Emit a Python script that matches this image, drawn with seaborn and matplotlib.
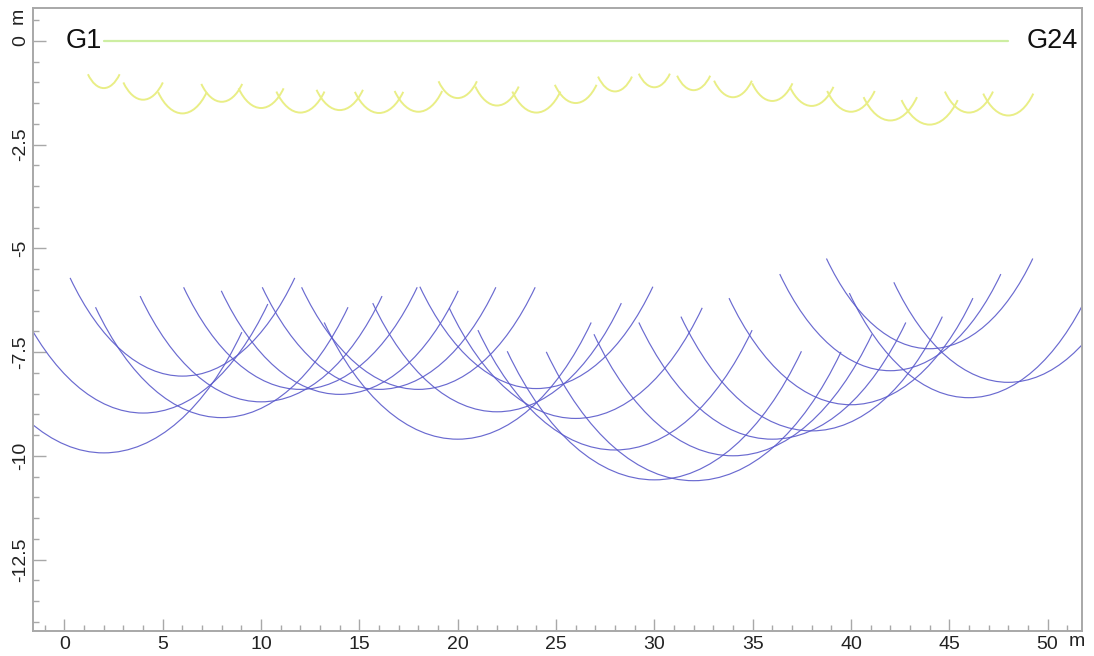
import matplotlib
matplotlib.use("Agg")
import matplotlib.pyplot as plt
from matplotlib.patches import Arc
from matplotlib.ticker import MultipleLocator, FixedLocator, FixedFormatter
import seaborn as sns
import pandas as pd

# ---- data ----
geophone_x = [2, 4, 6, 8, 10, 12, 14, 16, 18, 20, 22, 24,
              26, 28, 30, 32, 34, 36, 38, 40, 42, 44, 46, 48]
geophone_labels = ["G1", "G24"]
# first refractor depth arcs (radius, m)
shallow_r = [1.14, 1.42, 1.75, 1.47, 1.62, 1.73, 1.67, 1.74, 1.71, 1.38, 1.56, 1.73,
             1.50, 1.22, 1.12, 1.19, 1.36, 1.45, 1.57, 1.71, 1.92, 2.02, 1.73, 1.80]
# second refractor depth arcs (radius, m)
deep_r = [9.93, 8.97, 8.08, 9.08, 8.70, 8.40, 8.52, 8.40, 8.40, 9.60, 8.94, 8.38,
          9.10, 9.86, 10.58, 10.60, 10.00, 9.60, 9.40, 8.77, 7.95, 7.42, 8.60, 8.23]
arc_half_angle = 45  # degrees either side of vertical
x_ticks = [0, 5, 10, 15, 20, 25, 30, 35, 40, 45, 50]
y_ticks = [0, -2.5, -5, -7.5, -10, -12.5]
y_tick_labels = ["0", "-2.5", "-5", "-7.5", "-10", "-12.5"]

sns.set_theme(style="white")
plt.rcParams["font.family"] = ["Liberation Sans", "DejaVu Sans"]
plt.rcParams["axes.unicode_minus"] = False

W, H = 1094, 656
fig = plt.figure(figsize=(W / 100, H / 100), dpi=100)
ax = fig.add_axes([33 / W, 1 - 630.5 / H, (1082 - 33) / W, (630.5 - 8) / H])

# geophone spread line
spread = pd.DataFrame({"x": [geophone_x[0], geophone_x[-1]], "y": [0, 0]})
sns.lineplot(data=spread, x="x", y="y", ax=ax, color="#cdeea2", lw=1.6, legend=False)

t1, t2 = 270 - arc_half_angle, 270 + arc_half_angle
for xg, r in zip(geophone_x, shallow_r):
    ax.add_patch(Arc((xg, 0), 2 * r, 2 * r, theta1=t1, theta2=t2,
                     color="#e9ee86", lw=1.4))
for xg, r in zip(geophone_x, deep_r):
    ax.add_patch(Arc((xg, 0), 2 * r, 2 * r, theta1=t1, theta2=t2,
                     color="#5a5acb", lw=0.85, alpha=0.9))

ax.text(geophone_x[0] - 0.1, 0, geophone_labels[0], ha="right", va="center",
        fontsize=19.5, color="#111111")
ax.text(geophone_x[-1] + 0.95, 0, geophone_labels[1], ha="left", va="center",
        fontsize=19.5, color="#111111")

ax.set_xlim(-1.6, 51.75)
ax.set_ylim(-14.21, 0.79)
ax.set_xlabel("")
ax.set_ylabel("")

ax.xaxis.set_major_locator(FixedLocator(x_ticks))
ax.xaxis.set_minor_locator(MultipleLocator(1))
ax.yaxis.set_major_locator(FixedLocator(y_ticks))
ax.yaxis.set_major_formatter(FixedFormatter(y_tick_labels))
ax.yaxis.set_minor_locator(MultipleLocator(0.5))

spine_c = "#a8a8a8"
for s in ax.spines.values():
    s.set_visible(True)
    s.set_color(spine_c)
    s.set_linewidth(1.4)

ax.tick_params(which="both", direction="in", color=spine_c, width=1.0,
               bottom=True, left=True, top=False, right=False)
ax.tick_params(which="major", length=9)
ax.tick_params(which="minor", length=4.5)
ax.tick_params(axis="both", labelsize=14, labelcolor="#222222")
ax.tick_params(axis="x", pad=4)
ax.tick_params(axis="y", pad=3, labelrotation=90)
for lab in ax.get_yticklabels():
    lab.set_va("center")

fig.text(1077 / W, 1 - 642 / H, "m", ha="center", va="center", fontsize=14, color="#222222")
fig.text(18 / W, 1 - 16 / H, "m", ha="center", va="center", rotation=90, fontsize=14,
         color="#222222")

fig.savefig("out.png", dpi=100)
